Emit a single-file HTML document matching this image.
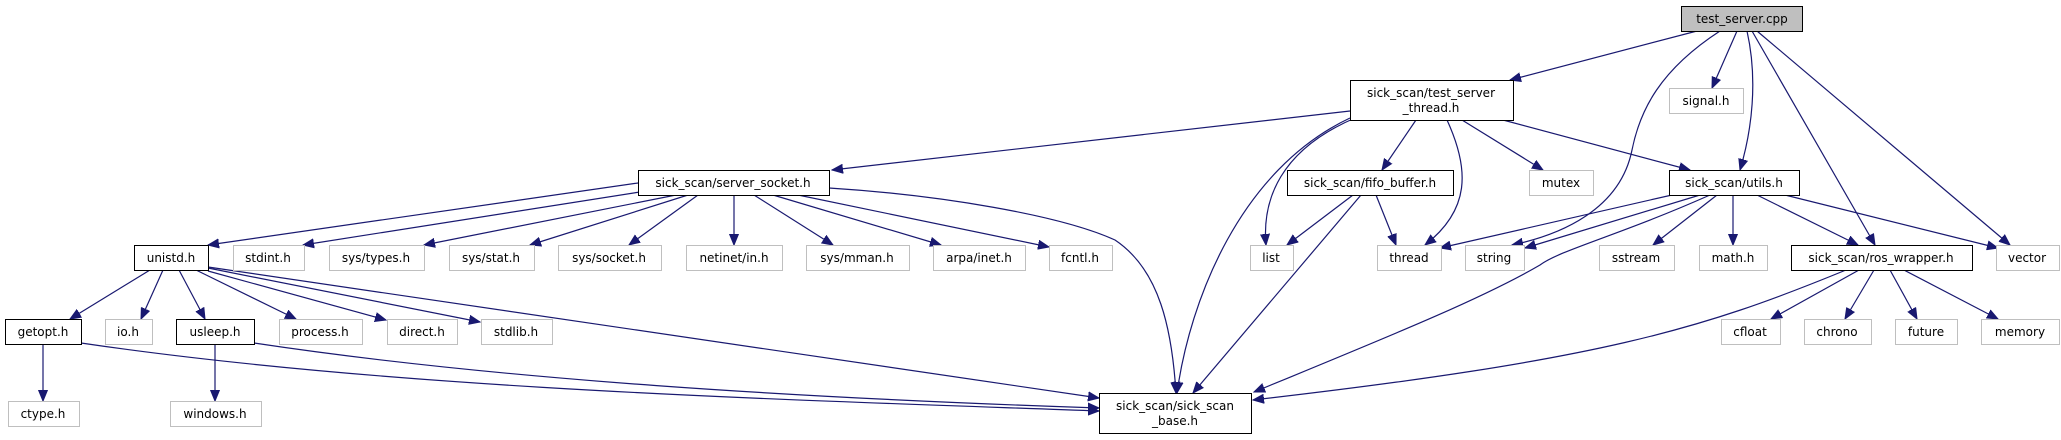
<!DOCTYPE html>
<html><head><meta charset="utf-8"><style>
html,body{margin:0;padding:0;background:#fff;}
svg{display:block;}
text{font-family:"DejaVu Sans","Liberation Sans",sans-serif;font-size:12px;fill:#000;}
</style></head><body>
<svg width="2061" height="440" viewBox="0 0 2061 440" xmlns="http://www.w3.org/2000/svg">
<defs>
<marker id="a" markerUnits="userSpaceOnUse" markerWidth="12" markerHeight="10" refX="11" refY="5" orient="auto">
<path d="M0,0.5 L11,5 L0,9.5 Z" fill="#191970" stroke="#191970"/>
</marker>
</defs>
<g fill="none" stroke="#191970" stroke-width="1.2" marker-end="url(#a)">
<!-- test_server.cpp -->
<path d="M1697,31 L1510,80"/>
<path d="M1720,31 C1660,70 1640,110 1632,150 C1620,210 1560,235 1512,245"/>
<path d="M1737,31 L1712,88"/>
<path d="M1747,31 C1758,80 1752,130 1740,170"/>
<path d="M1752,31 L1875,245"/>
<path d="M1757,31 L2010,245"/>
<!-- thread -->
<path d="M1350,111 L832,170"/>
<path d="M1350,118 C1240,170 1190,300 1177,393"/>
<path d="M1355,118 C1280,150 1262,200 1266,245"/>
<path d="M1416,120 L1382,170"/>
<path d="M1447,120 C1470,170 1470,210 1425,245"/>
<path d="M1462,120 L1543,170"/>
<path d="M1503,120 L1690,170"/>
<!-- fifo -->
<path d="M1353,195 L1287,245"/>
<path d="M1361,195 L1193,393"/>
<path d="M1376,195 L1396,245"/>
<!-- utils -->
<path d="M1672,195 L1440,248"/>
<path d="M1700,195 L1525,248"/>
<path d="M1710,195 C1620,235 1560,250 1540,265 C1480,300 1380,340 1254,392"/>
<path d="M1717,195 L1653,245"/>
<path d="M1733,195 L1733,245"/>
<path d="M1757,195 L1858,245"/>
<path d="M1785,195 L1998,248"/>
<!-- ros_wrapper -->
<path d="M1846,270 C1700,330 1600,360 1253,400"/>
<path d="M1859,270 L1771,319"/>
<path d="M1874,270 L1845,319"/>
<path d="M1890,270 L1917,319"/>
<path d="M1904,270 L1998,319"/>
<!-- server_socket -->
<path d="M638,183 L208,245"/>
<path d="M640,192 L303,245"/>
<path d="M676,195 L424,245"/>
<path d="M688,195 L530,245"/>
<path d="M698,195 L629,245"/>
<path d="M734,195 L734,245"/>
<path d="M754,195 L833,245"/>
<path d="M773,195 L941,245"/>
<path d="M798,195 L1049,247"/>
<path d="M829,188 C940,195 1060,215 1115,240 C1160,270 1172,330 1176,393"/>
<!-- unistd -->
<path d="M150,270 L70,319"/>
<path d="M163,270 L141,319"/>
<path d="M179,270 L205,319"/>
<path d="M196,270 L296,319"/>
<path d="M208,271 L386,320"/>
<path d="M208,268 L480,322"/>
<path d="M208,267 L1099,398"/>
<!-- getopt / usleep -->
<path d="M43,344 L43,401"/>
<path d="M81,343 C400,390 800,400 1099,411"/>
<path d="M215,344 L215,401"/>
<path d="M254,343 C500,380 800,398 1099,408"/>
</g>
<!-- nodes -->
<g stroke-width="1">
<rect x="1681.5" y="6.5" width="121" height="25" fill="#bfbfbf" stroke="#000"/>
<rect x="1350.5" y="80.5" width="163" height="40" fill="#fff" stroke="#000"/>
<rect x="1669.5" y="88.5" width="74" height="25" fill="#fff" stroke="#bfbfbf"/>
<rect x="638.5" y="170.5" width="191" height="25" fill="#fff" stroke="#000"/>
<rect x="1287.5" y="170.5" width="166" height="25" fill="#fff" stroke="#000"/>
<rect x="1529.5" y="170.5" width="64" height="25" fill="#fff" stroke="#bfbfbf"/>
<rect x="1669.5" y="170.5" width="130" height="25" fill="#fff" stroke="#000"/>
<rect x="134.5" y="245.5" width="74" height="25" fill="#fff" stroke="#000"/>
<rect x="233.5" y="245.5" width="71" height="25" fill="#fff" stroke="#bfbfbf"/>
<rect x="329.5" y="245.5" width="95" height="25" fill="#fff" stroke="#bfbfbf"/>
<rect x="449.5" y="245.5" width="85" height="25" fill="#fff" stroke="#bfbfbf"/>
<rect x="558.5" y="245.5" width="103" height="25" fill="#fff" stroke="#bfbfbf"/>
<rect x="686.5" y="245.5" width="96" height="25" fill="#fff" stroke="#bfbfbf"/>
<rect x="806.5" y="245.5" width="103" height="25" fill="#fff" stroke="#bfbfbf"/>
<rect x="933.5" y="245.5" width="92" height="25" fill="#fff" stroke="#bfbfbf"/>
<rect x="1049.5" y="245.5" width="63" height="25" fill="#fff" stroke="#bfbfbf"/>
<rect x="1250.5" y="245.5" width="43" height="25" fill="#fff" stroke="#bfbfbf"/>
<rect x="1377.5" y="245.5" width="64" height="25" fill="#fff" stroke="#bfbfbf"/>
<rect x="1465.5" y="245.5" width="59" height="25" fill="#fff" stroke="#bfbfbf"/>
<rect x="1599.5" y="245.5" width="75" height="25" fill="#fff" stroke="#bfbfbf"/>
<rect x="1699.5" y="245.5" width="68" height="25" fill="#fff" stroke="#bfbfbf"/>
<rect x="1791.5" y="245.5" width="181" height="25" fill="#fff" stroke="#000"/>
<rect x="1996.5" y="245.5" width="63" height="25" fill="#fff" stroke="#bfbfbf"/>
<rect x="5.5" y="319.5" width="76" height="25" fill="#fff" stroke="#000"/>
<rect x="105.5" y="319.5" width="47" height="25" fill="#fff" stroke="#bfbfbf"/>
<rect x="176.5" y="319.5" width="78" height="25" fill="#fff" stroke="#000"/>
<rect x="279.5" y="319.5" width="83" height="25" fill="#fff" stroke="#bfbfbf"/>
<rect x="387.5" y="319.5" width="70" height="25" fill="#fff" stroke="#bfbfbf"/>
<rect x="481.5" y="319.5" width="71" height="25" fill="#fff" stroke="#bfbfbf"/>
<rect x="1721.5" y="319.5" width="59" height="25" fill="#fff" stroke="#bfbfbf"/>
<rect x="1804.5" y="319.5" width="67" height="25" fill="#fff" stroke="#bfbfbf"/>
<rect x="1895.5" y="319.5" width="62" height="25" fill="#fff" stroke="#bfbfbf"/>
<rect x="1981.5" y="319.5" width="78" height="25" fill="#fff" stroke="#bfbfbf"/>
<rect x="8.5" y="401.5" width="71" height="25" fill="#fff" stroke="#bfbfbf"/>
<rect x="170.5" y="401.5" width="91" height="25" fill="#fff" stroke="#bfbfbf"/>
<rect x="1099.5" y="393.5" width="152" height="40" fill="#fff" stroke="#000"/>
</g>
<g text-anchor="middle">
<text x="1742" y="23">test_server.cpp</text>
<text x="1431" y="97">sick_scan/test_server</text>
<text x="1431" y="112">_thread.h</text>
<text x="1706" y="105">signal.h</text>
<text x="733" y="187">sick_scan/server_socket.h</text>
<text x="1370" y="187">sick_scan/fifo_buffer.h</text>
<text x="1561" y="187">mutex</text>
<text x="1734" y="187">sick_scan/utils.h</text>
<text x="171" y="262">unistd.h</text>
<text x="268" y="262">stdint.h</text>
<text x="376" y="262">sys/types.h</text>
<text x="491" y="262">sys/stat.h</text>
<text x="609" y="262">sys/socket.h</text>
<text x="734" y="262">netinet/in.h</text>
<text x="857" y="262">sys/mman.h</text>
<text x="979" y="262">arpa/inet.h</text>
<text x="1080" y="262">fcntl.h</text>
<text x="1271" y="262">list</text>
<text x="1409" y="262">thread</text>
<text x="1494" y="262">string</text>
<text x="1636" y="262">sstream</text>
<text x="1733" y="262">math.h</text>
<text x="1881" y="262">sick_scan/ros_wrapper.h</text>
<text x="2027" y="262">vector</text>
<text x="43" y="336">getopt.h</text>
<text x="128" y="336">io.h</text>
<text x="215" y="336">usleep.h</text>
<text x="320" y="336">process.h</text>
<text x="422" y="336">direct.h</text>
<text x="516" y="336">stdlib.h</text>
<text x="1750" y="336">cfloat</text>
<text x="1837" y="336">chrono</text>
<text x="1926" y="336">future</text>
<text x="2020" y="336">memory</text>
<text x="43" y="418">ctype.h</text>
<text x="215" y="418">windows.h</text>
<text x="1175" y="410">sick_scan/sick_scan</text>
<text x="1175" y="425">_base.h</text>
</g>
</svg>
</body></html>
